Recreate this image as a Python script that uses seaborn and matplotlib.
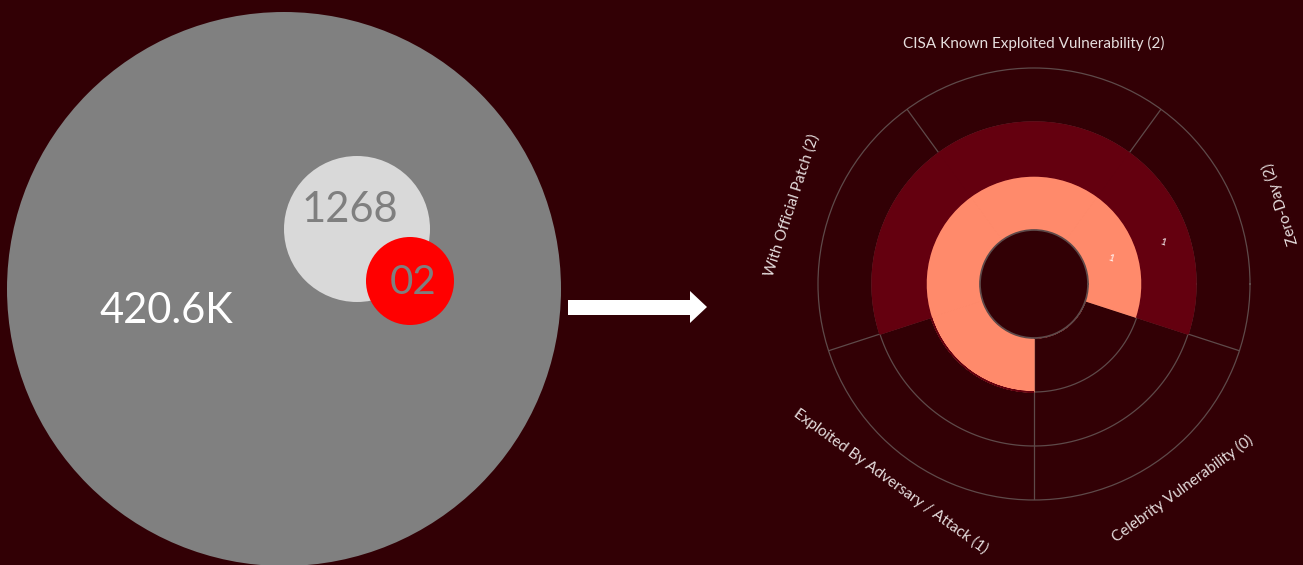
import numpy as np
import matplotlib
matplotlib.use("Agg")
import matplotlib.pyplot as plt
from matplotlib.patches import Circle, Polygon
import seaborn as sns

# ---------------- data ----------------
bubble_labels = ["420.6K", "1268", "02"]
categories = ["Zero-Day", "CISA Known Exploited Vulnerability", "With Official Patch",
              "Exploited By Adversary / Attack", "Celebrity Vulnerability"]
inner_values = [1, 1, 1, 1, 0]
outer_values = [1, 1, 1, 0, 0]
totals = [a + b for a, b in zip(inner_values, outer_values)]

# ---------------- style ----------------
BG = "#320005"
GRID = "#5e4a4a"
LABEL = "#e6dede"
sns.set_theme(style="dark", rc={"figure.facecolor": BG, "axes.facecolor": BG,
                                "savefig.facecolor": BG, "axes.edgecolor": GRID})
plt.rcParams["font.family"] = ["Lato", "DejaVu Sans"]
ring_colors = sns.color_palette(["#FF8A6B", "#64000F"])

W, H = 1303, 565
fig = plt.figure(figsize=(W / 100, H / 100), dpi=100)

# ---------------- left: bubble infographic ----------------
ax0 = fig.add_axes([0, 0, 1, 1])
ax0.set_xlim(0, W)
ax0.set_ylim(H, 0)
ax0.axis("off")
ax0.set_facecolor("none")

ax0.add_patch(Circle((284, 289), 277, color="#808080", lw=0))
ax0.add_patch(Circle((357, 229), 73, color="#D9D9D9", lw=0))
ax0.add_patch(Circle((410, 281), 44, color="#FF0000", lw=0))
ax0.text(166, 311, bubble_labels[0], color="white", fontsize=30, ha="center", va="center")
ax0.text(350, 210, bubble_labels[1], color="#7F7F7F", fontsize=30, ha="center", va="center")
ax0.text(413, 282, bubble_labels[2], color="#7F7F7F", fontsize=29, ha="center", va="center")

# arrow
ax0.add_patch(Polygon([(568, 300), (690, 300), (690, 291), (707, 307), (690, 323),
                       (690, 315), (568, 315)], closed=True, color="white", lw=0))

# ---------------- right: polar stacked rings ----------------
cx, cy, R = 1034, 284, 216
ax = fig.add_axes([(cx - R) / W, (H - cy - R) / H, 2 * R / W, 2 * R / H], projection="polar")
ax.set_facecolor("none")
ax.patch.set_edgecolor("none")
n = len(categories)
width = 2 * np.pi / n
theta = np.deg2rad(18) + np.arange(n) * width
ax.set_ylim(0, 3)
ax.set_rorigin(-1)
ax.grid(False)
ax.set_xticks([])
ax.set_yticks([])
for name, sp in ax.spines.items():
    if name == "polar":
        sp.set_color(GRID)
        sp.set_linewidth(0.9)
    else:
        sp.set_visible(False)

# grid (beneath bars)
tt = np.linspace(0, 2 * np.pi, 400)
for r in [0, 1, 2]:
    ax.plot(tt, np.full_like(tt, r), color=GRID, lw=0.9, zorder=0.5)
for b in theta - width / 2:
    ax.plot([b, b], [0, 3], color=GRID, lw=0.9, zorder=0.5)

ax.bar(theta, inner_values, width=width, bottom=0, color=ring_colors[0],
       edgecolor=ring_colors[0], lw=1.0, zorder=1)
ax.bar(theta, outer_values, width=width, bottom=inner_values, color=ring_colors[1],
       edgecolor=ring_colors[1], lw=1.0, zorder=1)

# value labels (shown in first sector)
ax.text(theta[0], 0.5, str(inner_values[0]), color="white", fontsize=7, ha="center",
        va="center", rotation=-18, zorder=3)
ax.text(theta[0], 1.5, str(outer_values[0]), color="white", fontsize=7, ha="center",
        va="center", rotation=-18, zorder=3)

# category labels around the circle (straight text, pulled in by the arc sag)
fig.canvas.draw()
renderer = fig.canvas.get_renderer()
px_per_unit = R / 4.0
R_lab = 262.0
for th, cat, tot in zip(theta, categories, totals):
    label = f"{cat} ({tot})"
    tmp = fig.text(0, 0, label, fontsize=11)
    w = tmp.get_window_extent(renderer).width
    tmp.remove()
    r_px = R_lab - (2.0 / 3.0) * w ** 2 / (8 * R_lab)
    deg = np.rad2deg(th) % 360
    rot = deg - 90 if 90 <= deg < 198 else deg + 90
    ax.text(th, r_px / px_per_unit - 1, label, color=LABEL, fontsize=11, ha="center",
            va="center", rotation=rot, rotation_mode="anchor", clip_on=False)

fig.savefig("out.png", dpi=100, facecolor=BG)
